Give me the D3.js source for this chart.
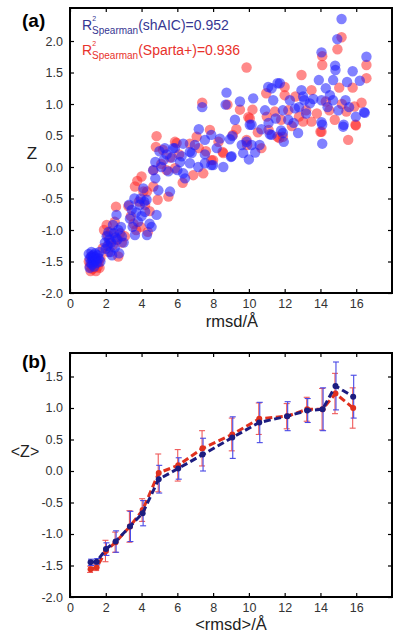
<!DOCTYPE html>
<html><head><meta charset="utf-8">
<script src="https://cdn.jsdelivr.net/npm/d3@7/dist/d3.min.js"></script>
<style>body{margin:0;background:#fff}svg{display:block}text{font-family:"Liberation Sans",Arial,sans-serif}</style>
</head><body>
<script>
// ---------- DATA ----------
const xTicks = [0,2,4,6,8,10,12,14,16];
const yTicksA = [-2.0,-1.5,-1.0,-0.5,0.0,0.5,1.0,1.5,2.0];
const yTicksB = [-2.0,-1.5,-1.0,-0.5,0.0,0.5,1.0,1.5];
const legendLabels = ["(shAIC)=0.952","(Sparta+)=0.936"];

// panel (a): [rmsd, Z]
const scatterShAIC = [
[1.05,-1.38],[1.1,-1.45],[1.15,-1.52],[1.2,-1.35],[1.2,-1.42],[1.25,-1.48],[1.25,-1.55],[1.3,-1.40],[1.3,-1.45],[1.35,-1.5],[1.4,-1.37],[1.4,-1.43],[1.45,-1.47],[1.5,-1.52],[1.55,-1.4],[1.6,-1.45],[1.65,-1.35],[1.1,-1.6],[1.35,-1.58],[1.7,-1.5],
[1.95,-1.2],[2.0,-1.3],[2.05,-1.1],[2.1,-1.25],[2.15,-1.03],[2.2,-1.15],[2.25,-1.35],[2.3,-1.2],[2.4,-0.92],[2.45,-1.05],[2.5,-1.28],[2.55,-1.12],[2.6,-0.76],[2.7,-1.0],[2.75,-1.37],[2.85,-0.95],[2.9,-1.1],[3.0,-1.2],[2.35,-1.4],[2.65,-1.15],
[3.3,-0.6],[3.35,-0.82],[3.45,-0.68],[3.5,-0.95],[3.6,-0.5],[3.63,-1.08],[3.7,-0.72],[3.8,-0.87],[3.9,-0.6],[4.0,-0.78],[4.1,-0.34],[4.15,-0.55],[4.2,-0.71],[4.28,-0.52],[4.45,-0.9],[4.56,-0.95],[4.84,-0.76],[3.95,-0.5],[4.3,-1.08],
[4.65,-0.05],[4.77,0.08],[4.77,-0.18],[4.94,-0.37],[5.0,0.25],[5.1,0.0],[5.23,0.11],[5.3,0.3],[5.5,-0.07],[5.59,-0.39],[5.7,0.15],[5.77,0.3],[5.87,0.3],[6.0,-0.05],[6.15,0.08],[6.24,0.17],[6.33,0.37],[6.43,-0.18],[6.33,-0.1],[5.4,0.2],
[6.7,0.06],[6.7,0.24],[6.8,0.22],[6.98,0.35],[7.17,0.0],[7.39,0.95],[7.54,0.2],[7.54,0.43],[7.54,0.06],[7.9,0.03],[7.9,0.51],[8.0,0.03],[8.38,0.45],[8.57,0.0],[8.7,0.99],[8.75,1.18],[8.94,0.44],[9.0,0.16],[9.03,0.17],[9.07,0.49],[7.2,0.6],[8.2,0.3],
[9.22,0.75],[9.5,1.04],[9.6,0.35],[9.68,0.22],[9.87,0.4],[10.0,0.12],[10.05,0.67],[10.15,0.67],[10.15,0.35],[10.24,1.09],[10.35,0.23],[10.6,0.35],[10.7,0.6],[11.08,1.27],[11.1,0.7],[11.17,0.52],[11.27,1.25],[11.27,0.51],[11.36,1.06],[10.9,0.9],
[11.6,1.33],[11.73,1.33],[11.8,0.58],[11.9,0.9],[11.9,0.54],[11.95,0.40],[12.29,1.06],[12.57,0.93],[12.75,0.54],[12.94,1.22],[13.03,1.12],[13.1,1.06],[13.41,1.01],[13.6,1.08],[12.2,0.75],[12.5,0.7],[13.2,0.85],[11.5,0.77],[12.8,0.95],
[13.91,1.38],[14.06,1.82],[14.06,1.06],[14.06,0.71],[14.1,0.67],[14.1,0.37],[14.53,1.14],[14.71,1.38],[14.7,1.06],[14.82,1.61],[14.84,1.54],[14.94,2.03],[15.18,2.35],[15.27,0.64],[15.3,0.67],[15.4,1.06],[15.49,1.35],[15.8,1.52],[15.98,0.8],[16.2,1.37],[16.44,0.87],[16.48,0.86],[16.57,1.75],[14.4,0.95],[15.0,0.9],[15.6,0.95],[14.3,1.25]
];
const scatterSparta = [
[1.05,-1.5],[1.1,-1.58],[1.15,-1.65],[1.2,-1.55],[1.25,-1.62],[1.3,-1.5],[1.35,-1.6],[1.4,-1.55],[1.45,-1.65],[1.5,-1.48],[1.55,-1.58],[1.6,-1.52],[1.7,-1.45],[1.2,-1.42],[1.65,-1.6],[1.4,-1.45],
[1.83,-1.29],[1.9,-1.0],[2.05,-0.92],[2.1,-1.08],[2.2,-1.2],[2.3,-1.02],[2.4,-1.24],[2.5,-0.87],[2.57,-0.63],[2.6,-1.15],[2.7,-1.42],[2.8,-1.05],[3.07,-1.1],[2.9,-1.2],[2.15,-1.35],
[3.26,-0.62],[3.4,-0.78],[3.55,-0.9],[3.63,-0.31],[3.76,-0.22],[3.85,-0.55],[3.95,-0.95],[4.1,-0.39],[4.2,-0.6],[4.3,-0.39],[4.35,-1.03],[4.45,-0.7],[3.7,-1.0],[4.0,-0.15],
[4.66,-0.31],[4.66,-0.05],[4.8,0.32],[4.84,0.49],[4.9,-0.52],[5.2,0.27],[5.4,-0.05],[5.5,-0.47],[5.6,0.15],[5.87,0.40],[5.87,-0.02],[5.96,0.38],[6.1,0.2],[6.3,-0.25],[5.1,0.05],
[6.7,0.37],[6.89,-0.13],[7.08,0.48],[7.2,0.3],[7.39,1.02],[7.45,-0.1],[7.82,0.59],[7.9,0.11],[8.0,0.11],[8.53,0.24],[8.57,0.22],[8.8,0.99],[9.1,0.51],[7.6,0.25],[8.3,0.4],
[9.3,0.6],[9.87,0.43],[9.87,1.58],[9.9,0.35],[9.97,0.79],[10.05,0.77],[10.2,0.91],[10.5,0.55],[10.97,1.17],[11.1,0.59],[11.45,0.88],[10.7,0.3],[9.5,0.91],[11.0,0.8],
[11.6,0.48],[11.7,0.46],[11.8,0.75],[11.9,0.48],[12.0,1.27],[12.0,1.14],[12.2,0.9],[12.4,0.65],[12.6,1.12],[12.94,1.46],[13.03,0.72],[13.2,0.9],[13.5,1.22],[13.5,0.72],[12.8,0.8],
[14.0,0.56],[14.06,0.56],[14.1,1.76],[14.1,1.62],[14.3,1.04],[14.5,0.9],[14.95,1.87],[15.05,1.26],[15.18,2.06],[15.45,0.88],[15.55,0.43],[15.8,1.26],[15.9,0.96],[15.96,0.67],[15.98,0.66],[16.3,1.02],[16.57,1.62],[16.57,1.41],[14.8,0.75],[15.2,1.0],[13.8,0.85]
];

// panel (b): mean rmsd, mean Z, error
const meanRmsd   = [1.15, 1.49, 2.01, 2.55, 3.35, 4.06, 4.96, 6.05, 7.41, 9.07, 10.58, 12.14, 13.26, 14.12, 14.84, 15.83];
const meanZShAIC = [-1.45,-1.44,-1.24,-1.12,-0.88,-0.67,-0.13, 0.04, 0.26, 0.53, 0.77, 0.87, 0.96, 0.98, 1.35, 1.18];
const errShAIC   = [0.05, 0.05, 0.10, 0.17, 0.24, 0.20, 0.22, 0.17, 0.26, 0.33, 0.32, 0.23, 0.19, 0.34, 0.38, 0.34];
const meanZSparta= [-1.56,-1.53,-1.27,-1.13,-0.88,-0.62,-0.03, 0.09, 0.36, 0.58, 0.83, 0.87, 0.98, 0.98, 1.23, 1.00];
const errSparta  = [0.05, 0.05, 0.17, 0.16, 0.25, 0.18, 0.30, 0.25, 0.28, 0.26, 0.25, 0.20, 0.19, 0.33, 0.32, 0.32];

// ---------- DRAW ----------
const W=400,H=640;
const svg=d3.select("body").append("svg").attr("width",W).attr("height",H);
const L=70,R=392;
const x=d3.scaleLinear().domain([0,18]).range([L,R]);

function frame(g, y, yTicks, top, bottom){
  const tick=4;
  const ax=d3.axisBottom(x).tickValues(xTicks).tickSize(-tick).tickPadding(6).tickFormat(d3.format("d"));
  const gx=g.append("g").attr("transform",`translate(0,${bottom})`).call(ax);
  const axT=d3.axisTop(x).tickValues(xTicks).tickSize(-tick).tickFormat("");
  const gxt=g.append("g").attr("transform",`translate(0,${top})`).call(axT);
  const ay=d3.axisLeft(y).tickValues(yTicks).tickSize(-tick).tickPadding(7).tickFormat(d3.format(".1f"));
  const gy=g.append("g").attr("transform",`translate(${L},0)`).call(ay);
  const ayR=d3.axisRight(y).tickValues(yTicks).tickSize(-tick).tickFormat("");
  const gyr=g.append("g").attr("transform",`translate(${R},0)`).call(ayR);
  [gx,gxt,gy,gyr].forEach(s=>{
    s.select(".domain").remove();
    s.selectAll(".tick line").attr("stroke","#000").attr("stroke-width",1.2);
    s.selectAll(".tick text").attr("fill","#333").style("font-size","12.5px").style("font-family","Liberation Sans, Arial, sans-serif");
  });
  gy.selectAll(".tick text").text(d=>d3.format(".1f")(d).replace("−","-"));
  g.append("rect").attr("x",L).attr("y",top).attr("width",R-L).attr("height",bottom-top)
   .attr("fill","none").attr("stroke","#000").attr("stroke-width",2);
}

// Panel (a)
const topA=8,botA=293;
const yA=d3.scaleLinear().domain([-2,2.524]).range([botA,topA]);
const gA=svg.append("g");
gA.append("g").selectAll("circle").data(scatterSparta).join("circle")
  .attr("cx",d=>x(d[0])).attr("cy",d=>yA(d[1])).attr("r",5.2)
  .attr("fill","#ff2a2a").attr("fill-opacity",0.55);
gA.append("g").selectAll("circle").data(scatterShAIC).join("circle")
  .attr("cx",d=>x(d[0])).attr("cy",d=>yA(d[1])).attr("r",5.2)
  .attr("fill","#1a1aff").attr("fill-opacity",0.55);
frame(gA,yA,yTicksA,topA,botA);

// legend
const legColors=["#363692","#e8322c"];
[0,1].forEach(i=>{
  const by= i===0?30:55;
  const t=gA.append("text").attr("x",82).attr("y",by).attr("fill",legColors[i]).style("font-size","14px");
  t.append("tspan").text("R");
  t.append("tspan").attr("dy",-9).style("font-size","7px").text("2");
  t.append("tspan").attr("dx",-4).attr("dy",13).style("font-size","10px").text("Spearman");
  t.append("tspan").attr("dy",-4).text(legendLabels[i]);
});

svg.append("text").attr("x",22).attr("y",27).style("font-size","19px").style("font-weight","bold").text("(a)");
svg.append("text").attr("x",32).attr("y",159).attr("text-anchor","middle").style("font-size","17px").attr("fill","#222").text("Z");
svg.append("text").attr("x",232).attr("y",327).attr("text-anchor","middle").style("font-size","16.5px").attr("fill","#222").text("rmsd/Å");

// Panel (b)
const topB=353,botB=597;
const yB=d3.scaleLinear().domain([-2,1.873]).range([botB,topB]);
const gB=svg.append("g");
const series=[
  {z:meanZSparta,e:errSparta,line:"#e0301e",bar:"#ef5a5a",dx:-0.5},
  {z:meanZShAIC,e:errShAIC,line:"#1c1c80",bar:"#4848e6",dx:0.5}
];
series.forEach(s=>{
  const pts=meanRmsd.map((r,i)=>({r,z:s.z[i],e:s.e[i]}));
  const eb=gB.append("g").attr("stroke",s.bar).attr("stroke-width",1.1);
  eb.selectAll("line.v").data(pts).join("line").attr("class","v")
    .attr("x1",d=>x(d.r)+s.dx).attr("x2",d=>x(d.r)+s.dx).attr("y1",d=>yB(d.z-d.e)).attr("y2",d=>yB(d.z+d.e));
  eb.selectAll("line.t").data(pts).join("line").attr("class","t")
    .attr("x1",d=>x(d.r)+s.dx-3).attr("x2",d=>x(d.r)+s.dx+3).attr("y1",d=>yB(d.z+d.e)).attr("y2",d=>yB(d.z+d.e));
  eb.selectAll("line.b").data(pts).join("line").attr("class","b")
    .attr("x1",d=>x(d.r)+s.dx-3).attr("x2",d=>x(d.r)+s.dx+3).attr("y1",d=>yB(d.z-d.e)).attr("y2",d=>yB(d.z-d.e));
});
series.forEach(s=>{
  const pts=meanRmsd.map((r,i)=>({r,z:s.z[i]}));
  gB.append("path").datum(pts).attr("fill","none").attr("stroke",s.line).attr("stroke-width",3)
    .attr("stroke-dasharray","7,3.5")
    .attr("d",d3.line().x(d=>x(d.r)).y(d=>yB(d.z)));
  gB.append("g").selectAll("circle").data(pts).join("circle")
    .attr("cx",d=>x(d.r)).attr("cy",d=>yB(d.z)).attr("r",3).attr("fill",s.line);
});
frame(gB,yB,yTicksB,topB,botB);

svg.append("text").attr("x",22).attr("y",368).style("font-size","19px").style("font-weight","bold").text("(b)");
svg.append("text").attr("x",25).attr("y",457).attr("text-anchor","middle").style("font-size","16px").attr("fill","#222").text("<Z>");
svg.append("text").attr("x",231).attr("y",630).attr("text-anchor","middle").style("font-size","16.5px").attr("fill","#222").text("<rmsd>/Å");
</script>
</body></html>
